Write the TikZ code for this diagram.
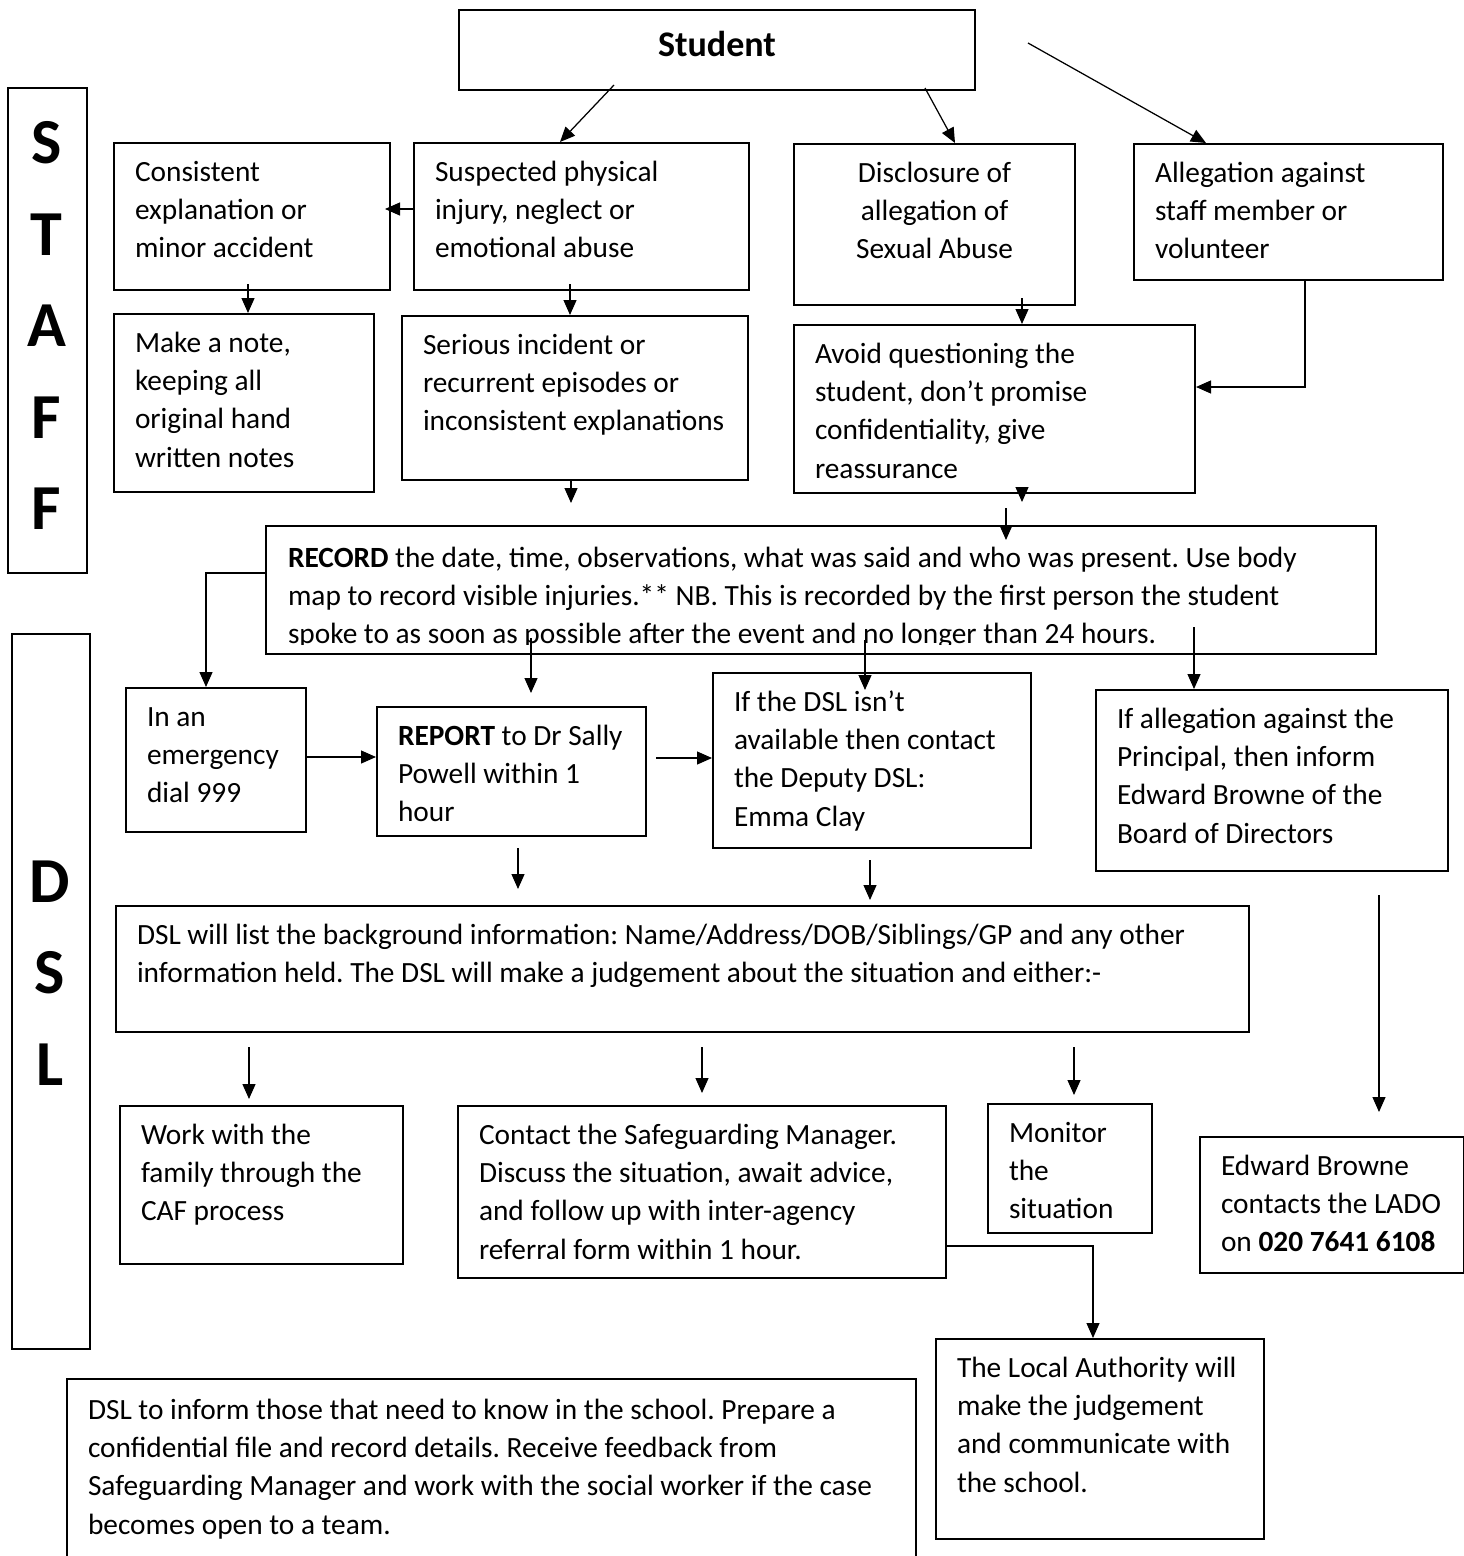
\documentclass[tikz,border=0pt]{standalone}
\usepackage{fontspec}
\setmainfont{Carlito}
\frenchspacing
\usetikzlibrary{arrows.meta,calc}

\tikzset{
  box/.style={draw, line width=0.4mm, anchor=north west, inner xsep=4.2mm, inner ysep=0pt,
    text height=7.6mm, font={\fontsize{16.7pt}{21.9pt}\selectfont}},
  lbox/.style={box, align=left, execute at begin node={\spaceskip=0pt\xspaceskip=0pt\rightskip=0pt plus 1fil minus 5cm}},
  cbox/.style={box, align=flush center, execute at begin node={\spaceskip=0pt\xspaceskip=0pt}},
  frame/.style={draw, line width=0.4mm},
  bar/.style={draw, line width=0.4mm, anchor=north west, inner sep=0pt},
  barletter/.style={anchor=base, inner sep=0pt, font={\fontsize{36.5pt}{40pt}\selectfont\bfseries}},
  arr/.style={-{Triangle[length=3mm,width=2.6mm]}, line width=0.25mm}
}

\begin{document}
\begin{tikzpicture}[x=0.2mm, y=-0.2mm]
\clip (0,0) rectangle (1464,1556);

\node[bar, minimum width=15.8mm, minimum height=97mm] (staffbar) at (7,87) {};
\node[bar, minimum width=15.6mm, minimum height=143mm] (dslbar) at (11,633) {};
\foreach \ltr [count=\i] in {S,T,A,F,F}
  \node[barletter] (staff\i) at (46.5,{163.5+91.6*(\i-1)}) {\ltr};
\foreach \ltr [count=\i] in {D,S,L}
  \node[barletter] (dsl\i) at (50,{902+91.5*(\i-1)}) {\ltr};

\node[cbox, text width=94.8mm, text height=9.2mm, text depth=6.8mm,
  font={\fontsize{20.5pt}{24pt}\selectfont\bfseries}] (student) at (458,9) {Student};

\node[lbox, text width=46.8mm, text depth=21.8mm] (consistent) at (113,142) {Consistent\\explanation or\\minor accident};
\node[lbox, text width=58.6mm, text depth=21.8mm] (suspected) at (413,142) {Suspected physical\\injury, neglect or\\emotional abuse};
\node[cbox, text width=47.8mm, text depth=24.6mm] (disclosure) at (793,143) {Disclosure of\\allegation of\\Sexual Abuse};
\node[lbox, text width=53.4mm, text depth=19.6mm] (allegation) at (1133,143) {Allegation against\\staff member or\\volunteer};
\node[lbox, text width=43.6mm, text depth=28mm] (note) at (113,313) {Make a note,\\keeping all\\original hand\\written notes};
\node[lbox, text width=60.8mm, text depth=25.2mm] (serious) at (401,315) {Serious incident or\\recurrent episodes or\\inconsistent explanations};
\node[lbox, text width=71.8mm, text depth=26mm] (avoid) at (793,324) {Avoid questioning the\\student, don’t promise\\confidentiality, give\\reassurance};

\begin{scope}
\clip (0,0) rectangle (1464,644);
\node[lbox, draw=none, text width=213.2mm, text height=8mm, text depth=17.2mm] (record) at (266,526) {\textbf{RECORD} the date, time, observations, what was said and who was present. Use body\\map to record visible injuries.** NB. This is recorded by the first person the student\\spoke to as soon as possible after the event and no longer than 24 hours.};
\end{scope}
\draw[frame] (record.south west) rectangle (record.north east);

\node[lbox, text width=27.6mm, text depth=21.2mm] (emergency) at (125,687) {In an\\emergency\\dial 999};
\node[lbox, text width=45.4mm, text depth=18.2mm] (report) at (376,706) {\textbf{REPORT} to Dr Sally\\Powell within 1\\hour};
\node[lbox, text width=55.2mm, text depth=27.4mm] (ifdsl) at (712,672) {If the DSL isn’t\\available then contact\\the Deputy DSL:\\Emma Clay};
\node[lbox, text width=62mm, text depth=28.6mm] (principal) at (1095,689) {If allegation against the\\Principal, then inform\\Edward Browne of the\\Board of Directors};
\node[lbox, text width=218.2mm, text depth=17.6mm] (dsllist) at (115,905) {DSL will list the background information: Name/Address/DOB/Siblings/GP and any other\\information held. The DSL will make a judgement about the situation and either:-};
\node[lbox, text width=48.2mm, text depth=24mm] (work) at (119,1105) {Work with the\\family through the\\CAF process};
\node[lbox, text width=89.2mm, text depth=26.8mm] (contact) at (457,1105) {Contact the Safeguarding Manager.\\Discuss the situation, await advice,\\and follow up with inter-agency\\referral form within 1 hour.};
\node[lbox, text width=24.4mm, text depth=18.2mm] (monitor) at (987,1103) {Monitor\\the\\situation};
\node[lbox, text width=44.4mm, text depth=19.6mm] (edward) at (1199,1136) {Edward Browne\\contacts the LADO\\on \textbf{020 7641 6108}};
\node[lbox, text width=57.2mm, text depth=32.4mm] (la) at (935,1338) {The Local Authority will\\make the judgement\\and communicate with\\the school.};
\node[lbox, text width=161.4mm, text height=8mm, text depth=42mm] (inform) at (66,1378) {DSL to inform those that need to know in the school. Prepare a\\confidential file and record details. Receive feedback from\\Safeguarding Manager and work with the social worker if the case\\becomes open to a team.};

\coordinate (allegtop) at (1028,43);
\coordinate (seriousout) at (571,503);
\coordinate (avoidout) at (1022,502);
\coordinate (recordin) at (1006,508);
\coordinate (reportin) at (531,693);
\coordinate (dslin1) at (518,889);
\coordinate (dslin2) at (870,900);
\coordinate (edwardin) at (1379,1112);

\draw[arr] ($(student.south)+(-103,-6)$) -- ($(suspected.north west)+(147,0)$);
\draw[arr] ($(student.south east)+(-51,-3)$) -- ($(disclosure.north west)+(162,0)$);
\draw[arr] (allegtop) -- ($(allegation.north west)+(73,0)$);
\draw[arr] ($(suspected.north west)+(0,67)$) -- ($(consistent.north east)+(-6,67)$);
\draw[arr] ($(consistent.south west)+(135,-7)$) -- ($(note.north west)+(135,0)$);
\draw[arr] ($(suspected.south west)+(157,-7)$) -- ($(serious.north west)+(169,0)$);
\draw[arr] ($(serious.south west)+(170,0)$) -- (seriousout);
\draw[arr] ($(disclosure.south west)+(229,-8)$) -- ($(avoid.north west)+(229,0)$);
\draw[arr] ($(allegation.south west)+(172,0)$) |- ($(avoid.north east)+(0,63)$);
\draw[arr] ($(avoid.south west)+(229,0)$) -- (avoidout);
\draw[arr] (recordin) -- ($(record.north west)+(740,14)$);
\draw[arr] ($(record.north west)+(0,47)$) -| ($(emergency.north west)+(81,0)$);
\draw[arr] ($(record.north west)+(265,112)$) -- (reportin);
\draw[arr] ($(record.north west)+(599,114)$) -- ($(ifdsl.north west)+(153,18)$);
\draw[arr] ($(record.north west)+(928,101)$) -- ($(principal.north west)+(99,0)$);
\draw[arr] ($(emergency.north east)+(0,70)$) -- ($(report.north west)+(0,51)$);
\draw[arr] ($(report.north east)+(9,52)$) -- ($(ifdsl.north west)+(0,86)$);
\draw[arr] ($(report.south west)+(142,11)$) -- (dslin1);
\draw[arr] ($(ifdsl.south west)+(158,11)$) -- (dslin2);
\draw[arr] ($(principal.south west)+(284,23)$) -- (edwardin);
\draw[arr] ($(dsllist.south west)+(134,14)$) -- ($(work.north west)+(130,-6)$);
\draw[arr] ($(dsllist.south west)+(587,14)$) -- ($(contact.north west)+(245,-12)$);
\draw[arr] ($(dsllist.south west)+(959,14)$) -- ($(monitor.north west)+(87,-8)$);
\draw[arr] ($(contact.north east)+(0,141)$) -| ($(la.north west)+(158,0)$);
\end{tikzpicture}
\end{document}
